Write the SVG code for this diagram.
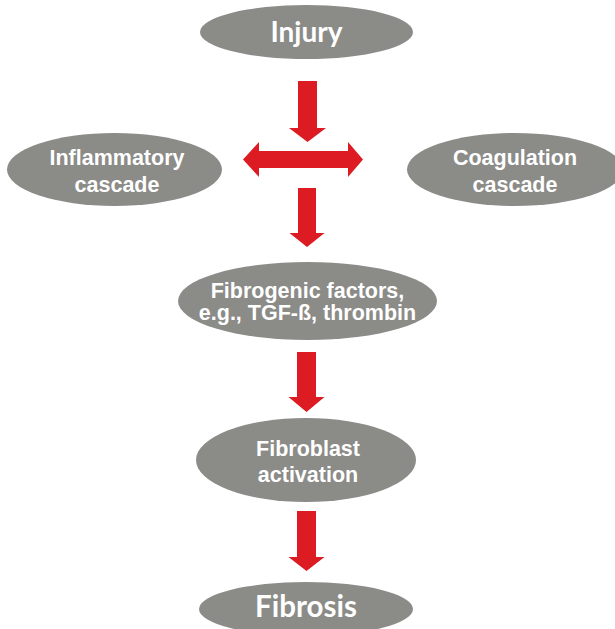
<svg xmlns="http://www.w3.org/2000/svg" width="615" height="629" viewBox="0 0 615 629">
<style>
.node{fill:#8b8b87}
.arrow{fill:#dc1c22}
.lbl{fill:#ffffff;font-family:"Liberation Sans",Arial,sans-serif;font-weight:bold;font-size:21.5px;text-anchor:middle}
.big{fill:#ffffff;font-family:Lato,"Liberation Sans",sans-serif;font-weight:bold;font-size:28px;text-anchor:middle}
</style>
<rect width="615" height="629" fill="#ffffff"/>
<g id="connectors">
<polygon class="arrow" points="298,81 317,81 317,128 326,128 307.5,142 289,128 298,128"/>
<polygon class="arrow" points="243,159.5 259,142 259,151 348,151 348,142 363,159.5 348,177 348,168 259,168 259,177"/>
<polygon class="arrow" points="298,188 316,188 316,233 324.5,233 307,247 289.5,233 298,233"/>
<polygon class="arrow" points="297,352 316,352 316,397 324.5,397 306.5,412 288.5,397 297,397"/>
<polygon class="arrow" points="297,511 316,511 316,557 324.5,557 306.5,571 288.5,557 297,557"/>
</g>
<g id="injury">
<ellipse class="node" cx="306.5" cy="32" rx="106.5" ry="27"/>
<text class="big" x="306.5" y="42">Injury</text>
</g>
<g id="inflammatory">
<ellipse class="node" cx="114.5" cy="169.5" rx="107.5" ry="36.5"/>
<text class="lbl" x="117" y="165">Inflammatory</text>
<text class="lbl" x="117" y="192">cascade</text>
</g>
<g id="coagulation">
<ellipse class="node" cx="515" cy="169.5" rx="108" ry="36.5"/>
<text class="lbl" x="515" y="165">Coagulation</text>
<text class="lbl" x="515" y="192">cascade</text>
</g>
<g id="fibrogenic">
<ellipse class="node" cx="307.5" cy="301" rx="129.5" ry="39"/>
<text class="lbl" x="307.5" y="298">Fibrogenic factors,</text>
<text class="lbl" x="307.5" y="320">e.g., TGF-ß, thrombin</text>
</g>
<g id="fibroblast">
<ellipse class="node" cx="306" cy="460" rx="110" ry="42"/>
<text class="lbl" x="308" y="456">Fibroblast</text>
<text class="lbl" x="308" y="482">activation</text>
</g>
<g id="fibrosis">
<ellipse class="node" cx="306" cy="609" rx="107" ry="27"/>
<text class="big" x="306" y="617" style="font-size:29.5px">Fibrosis</text>
</g>
</svg>
